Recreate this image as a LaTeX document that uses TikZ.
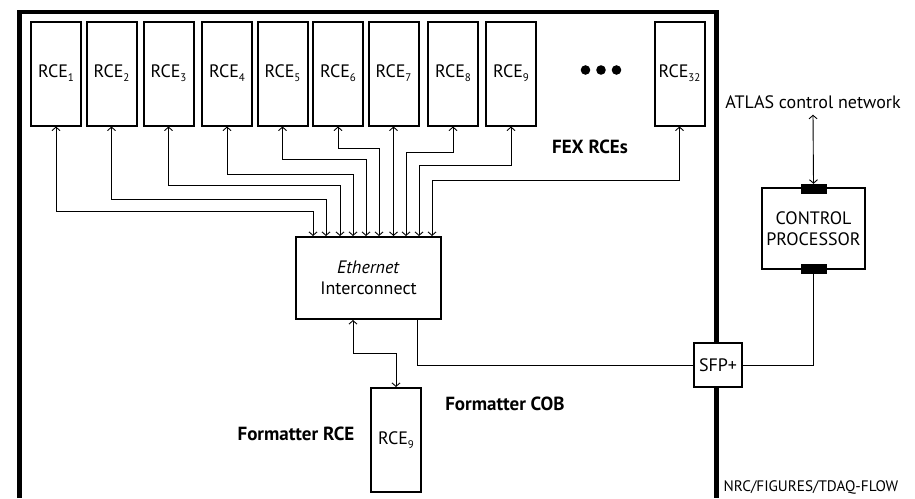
\documentclass[tikz,border=0pt]{standalone}
\usepackage{fontspec}
\setmainfont{PT Sans}
\usetikzlibrary{arrows.meta}
\newcommand{\mysub}[1]{\raisebox{-4pt}{\fontsize{11}{11}\selectfont #1}}
\begin{document}
\begin{tikzpicture}[x=1pt,y=-1pt,
  txt/.style={font=\fontsize{18}{21}\selectfont},
  rcebox/.style={draw, line width=2pt, minimum width=50pt, minimum height=104pt, inner sep=0pt, txt},
  box/.style={draw, line width=2pt, inner sep=0pt, txt, align=center, fill=white},
  conn/.style={line width=0.9pt, {Straight Barb[length=3.5pt,width=8pt]}-{Straight Barb[length=3.5pt,width=8pt]}},
  wire/.style={line width=0.9pt},
  plug/.style={draw, fill=black, minimum width=25pt, minimum height=9pt, inner sep=0pt},
  bold/.style={font=\fontsize{19}{22}\selectfont\bfseries}
]
\useasboundingbox (0,0) rectangle (915,498);
% outer frame
\draw[line width=4.5pt, line join=miter] (19.5,498) -- (19.5,12) -- (716.5,12) -- (716.5,498);

% RCE boxes
\node[rcebox] (r1)  at (56,73.5)  {RCE\mysub{1}};
\node[rcebox] (r2)  at (111.5,73.5) {RCE\mysub{2}};
\node[rcebox] (r3)  at (168.5,73.5) {RCE\mysub{3}};
\node[rcebox] (r4)  at (227,73.5) {RCE\mysub{4}};
\node[rcebox] (r5)  at (282.5,73.5) {RCE\mysub{5}};
\node[rcebox] (r6)  at (338,73.5) {RCE\mysub{6}};
\node[rcebox] (r7)  at (393.5,73.5) {RCE\mysub{7}};
\node[rcebox] (r8)  at (453,73.5) {RCE\mysub{8}};
\node[rcebox] (r9)  at (511,73.5) {RCE\mysub{9}};
\node[rcebox] (r32) at (679.5,73.5) {RCE\mysub{32}};

\fill (585.5,70) circle (4.8) (601,70) circle (4.8) (616.5,70) circle (4.8);

\node[bold] (fex) at (590,147) {FEX RCEs};

% Ethernet interconnect
\node[box, minimum width=145pt, minimum height=82pt] (eth) at (368.5,278) {\textit{Ethernet}\\Interconnect};

% bends
\coordinate (d1) at (313,211);
\coordinate (d2) at (326,199);
\coordinate (d3) at (340,185);
\coordinate (d4) at (353,174);
\coordinate (d5) at (366,159);
\coordinate (d6) at (379,148);
\coordinate (d8) at (406,152);
\coordinate (d9) at (419,165);
\coordinate (d10) at (432,180);

\draw[conn] (r1.south) |- (d1) -- (d1 |- eth.north);
\draw[conn] (r2.south) |- (d2) -- (d2 |- eth.north);
\draw[conn] (r3.south) |- (d3) -- (d3 |- eth.north);
\draw[conn] (r4.south) |- (d4) -- (d4 |- eth.north);
\draw[conn] (r5.south) |- (d5) -- (d5 |- eth.north);
\draw[conn] (r6.south) |- (d6) -- (d6 |- eth.north);
\draw[conn] (r7.south) -- (r7.south |- eth.north);
\draw[conn] (r8.south) |- (d8) -- (d8 |- eth.north);
\draw[conn] (r9.south) |- (d9) -- (d9 |- eth.north);
\draw[conn] (r32.south) |- (d10) -- (d10 |- eth.north);

% formatter
\node[rcebox] (fr) at (396,440) {RCE\mysub{9}};
\node[bold] (fcob) at (505,404) {Formatter COB};
\node[bold] (frce) at (296,434) {Formatter RCE};

\coordinate (e1) at (353,353);
\draw[conn] (eth.south -| e1) -- (e1) -| (fr.north);

% SFP
\node[box, minimum width=48pt, minimum height=44pt] (sfp) at (718,365) {SFP+};
\coordinate (e2) at (417,365);
\draw[wire] (eth.south -| e2) |- (sfp.west);

% control processor
\node[box, minimum width=103pt, minimum height=81pt] (cp) at (813.5,228.5) {CONTROL\\PROCESSOR};
\node[plug] (ct) at (813.5,188.5) {};
\node[plug] (cb) at (813.5,269) {};
\draw[wire] (sfp.east) -| (cb.south);

\node[txt, inner sep=0pt] (atlas) at (813,102) {ATLAS control network};
\draw[conn] ([yshift=-6pt]atlas.south) -- (ct.north);

\node[font=\fontsize{15.2}{17}\selectfont, inner sep=0pt] (nrc) at (811,487) {NRC/FIGURES/TDAQ-FLOW};
\end{tikzpicture}
\end{document}
